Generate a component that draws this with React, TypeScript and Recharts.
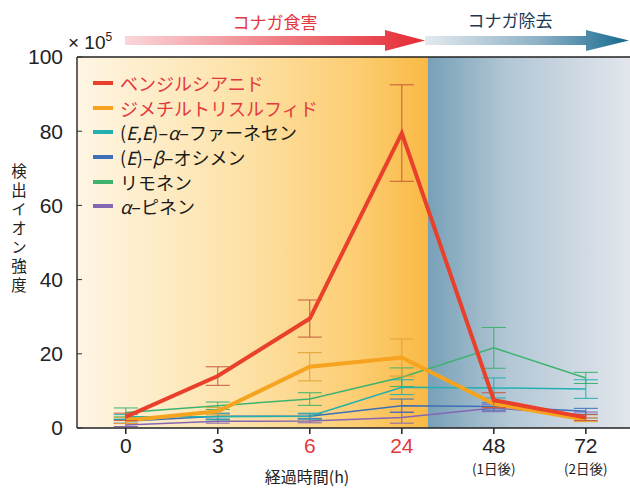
import React from "react";
import {
  LineChart,
  Line,
  XAxis,
  YAxis,
  ErrorBar,
  ReferenceArea,
  ReferenceLine,
  Legend,
} from "recharts";

const NUM_FONT = '"Liberation Sans", Arial, "Noto Sans CJK JP", sans-serif';
const JP_FONT = '"Noto Sans CJK JP", "Liberation Sans", sans-serif';

// elapsed time (h)
const timeIndex = [0, 1, 2, 3, 4, 5];
const timeLabels = ["0", "3", "6", "24", "48", "72"];
const timeSubLabels = ["", "", "", "", "(1日後)", "(2日後)"];
const timeHighlighted = [false, false, true, true, false, false];
const yTicks = [0, 20, 40, 60, 80, 100];

// detected ion intensity (x10^5): means and error
const benzylCyanide = [3, 14, 29.5, 79.5, 7.5, 2.8];
const benzylCyanideErr = [1, 2.5, 5, 13, 2, 0.8];
const dmts = [2, 4.5, 16.5, 19, 6.5, 2.2];
const dmtsErr = [0.8, 1, 3.8, 5, 1, 0.5];
const farnesene = [3, 3, 3.2, 11, 10.8, 10.5];
const farneseneErr = [0.6, 0.8, 0.8, 2, 2.7, 2.5];
const ocimene = [1.8, 3.2, 3.2, 6, 5.8, 4.5];
const ocimeneErr = [0.5, 0.8, 0.6, 1.8, 1, 0.8];
const limonene = [4.2, 6, 7.8, 13.7, 21.6, 13.5];
const limoneneErr = [1.2, 1, 1.7, 2.5, 5.5, 1.5];
const pinene = [0.8, 1.8, 1.9, 2.8, 5.4, 3.5];
const pineneErr = [0.4, 0.5, 0.5, 1.5, 1, 0.8];

// boundary between feeding / removal (in time-index units)
const removalStart = 3.28;

const data = timeIndex.map((x, i) => ({
  x,
  bc: benzylCyanide[i],
  bcErr: benzylCyanideErr[i],
  dmts: dmts[i],
  dmtsErr: dmtsErr[i],
  far: farnesene[i],
  farErr: farneseneErr[i],
  oci: ocimene[i],
  ociErr: ocimeneErr[i],
  lim: limonene[i],
  limErr: limoneneErr[i],
  pin: pinene[i],
  pinErr: pineneErr[i],
}));

const RED_TEXT = "#e3383d";

const series = [
  {
    key: "bc",
    color: "#e8402a",
    errColor: "#c65a3a",
    width: 4,
    textColor: RED_TEXT,
    label: <>ベンジルシアニド</>,
  },
  {
    key: "dmts",
    color: "#f6a31f",
    errColor: "#e0a235",
    width: 4,
    textColor: RED_TEXT,
    label: <>ジメチルトリスルフィド</>,
  },
  {
    key: "far",
    color: "#22b0b0",
    errColor: "#22b0b0",
    width: 1.5,
    textColor: "#1a1a1a",
    label: (
      <>
        (<i>E,E</i>)–<i>α</i>–ファーネセン
      </>
    ),
  },
  {
    key: "oci",
    color: "#3e6fb8",
    errColor: "#3e6fb8",
    width: 1.5,
    textColor: "#1a1a1a",
    label: (
      <>
        (<i>E</i>)–<i>β</i>–オシメン
      </>
    ),
  },
  {
    key: "lim",
    color: "#3db36e",
    errColor: "#3db36e",
    width: 1.5,
    textColor: "#1a1a1a",
    label: <>リモネン</>,
  },
  {
    key: "pin",
    color: "#8466b2",
    errColor: "#8466b2",
    width: 1.5,
    textColor: "#1a1a1a",
    label: (
      <>
        <i>α</i>–ピネン
      </>
    ),
  },
];

const TimeTick = ({ x, y, payload }: any) => {
  const i = payload.value as number;
  return (
    <text x={x} y={y} textAnchor="middle" fill="#222">
      <tspan
        x={x}
        dy={17}
        fontSize={21}
        fontFamily={NUM_FONT}
        fill={timeHighlighted[i] ? RED_TEXT : "#222"}
      >
        {timeLabels[i]}
      </tspan>
      {timeSubLabels[i] && (
        <tspan x={x} dy={20.5} fontSize={13.5} fontFamily={JP_FONT}>
          {timeSubLabels[i]}
        </tspan>
      )}
    </text>
  );
};

const LegendBox = () => (
  <div style={{ fontFamily: JP_FONT, fontSize: 18 }}>
    {series.map((s) => (
      <div key={s.key} style={{ display: "flex", alignItems: "center", height: 24.6, whiteSpace: "nowrap" }}>
        <svg width={27} height={10} style={{ flex: "none" }}>
          <line x1={0} x2={20} y1={5} y2={5} stroke={s.color} strokeWidth={4} />
        </svg>
        <span style={{ color: s.textColor }}>{s.label}</span>
      </div>
    ))}
  </div>
);

export default function App() {
  // draw thin lines first, the two thick ones on top
  const drawOrder = [...series].reverse();
  return (
    <div style={{ position: "absolute", left: 0, top: 0, width: 630, height: 490, background: "#fff" }}>
      <LineChart width={630} height={490} data={data} margin={{ top: 57, right: 0, left: 0, bottom: 0 }}>
        <defs>
          <linearGradient id="feedBg" x1="0" y1="0" x2="1" y2="0">
            <stop offset="0" stopColor="#fef5e4" />
            <stop offset="0.45" stopColor="#fde3aa" />
            <stop offset="0.8" stopColor="#fccd72" />
            <stop offset="1" stopColor="#f9b945" />
          </linearGradient>
          <linearGradient id="removeBg" x1="0" y1="0" x2="1" y2="0">
            <stop offset="0" stopColor="#77a0b7" />
            <stop offset="0.4" stopColor="#b3c7d5" />
            <stop offset="1" stopColor="#e2e6ec" />
          </linearGradient>
        </defs>
        <ReferenceArea x1={-0.53} x2={removalStart} y1={0} y2={100} fill="url(#feedBg)" fillOpacity={1} stroke="none" />
        <ReferenceArea x1={removalStart} x2={5.48} y1={0} y2={100} fill="url(#removeBg)" fillOpacity={1} stroke="none" />
        <ReferenceLine y={100} stroke="#222" strokeWidth={1.5} />
        <XAxis
          dataKey="x"
          type="number"
          domain={[-0.53, 5.48]}
          ticks={timeIndex}
          allowDataOverflow
          height={62}
          axisLine={{ stroke: "#222", strokeWidth: 1.5 }}
          tickLine={{ stroke: "#222", strokeWidth: 1.5 }}
          tickSize={6}
          tick={<TimeTick />}
        />
        <YAxis
          type="number"
          domain={[0, 100]}
          ticks={yTicks}
          width={77}
          axisLine={{ stroke: "#333", strokeWidth: 1.5 }}
          tickLine={{ stroke: "#333", strokeWidth: 1 }}
          tickSize={-5}
          tickMargin={19}
          tick={{ fontSize: 21, fill: "#222", fontFamily: NUM_FONT }}
        />
        <Legend
          layout="vertical"
          verticalAlign="middle"
          align="center"
          content={<LegendBox />}
          wrapperStyle={{ left: 93, top: 71, width: 280 }}
        />
        {drawOrder.map((s) => (
          <Line
            key={s.key}
            type="linear"
            dataKey={s.key}
            stroke={s.color}
            strokeWidth={s.width}
            dot={false}
            isAnimationActive={false}
            legendType="none"
          >
            <ErrorBar dataKey={`${s.key}Err`} width={12} stroke={s.errColor} strokeWidth={1} direction="y" />
          </Line>
        ))}
      </LineChart>
      <svg
        width={630}
        height={490}
        style={{ position: "absolute", left: 0, top: 0, pointerEvents: "none" }}
      >
        <defs>
          <linearGradient id="feedArrow" x1="0" y1="0" x2="1" y2="0">
            <stop offset="0" stopColor="#fad6d9" />
            <stop offset="1" stopColor="#e52a34" />
          </linearGradient>
          <linearGradient id="removeArrow" x1="0" y1="0" x2="1" y2="0">
            <stop offset="0" stopColor="#e3e9ee" />
            <stop offset="0.55" stopColor="#8fb2c6" />
            <stop offset="1" stopColor="#15698f" />
          </linearGradient>
        </defs>
        <path d="M125,36 L385,36 L385,30 L425,40.5 L385,51 L385,45 L125,45 Z" fill="url(#feedArrow)" />
        <path d="M425,36 L586,36 L586,30 L629,40.5 L586,51 L586,45 L425,45 Z" fill="url(#removeArrow)" />
        <text x={275} y={29} textAnchor="middle" fontSize={17} fontFamily={JP_FONT} fill={RED_TEXT}>
          コナガ食害
        </text>
        <text x={510} y={27} textAnchor="middle" fontSize={17} fontFamily={JP_FONT} fill="#1e3854">
          コナガ除去
        </text>
        <text x={68} y={49} fontSize={19} fontFamily={NUM_FONT} fill="#222">
          × 10
          <tspan fontSize={12} dy={-8}>
            5
          </tspan>
        </text>
        <text
          x={19}
          y={163}
          fontSize={15.5}
          fontFamily={JP_FONT}
          fill="#222"
          letterSpacing={3.5}
          style={{ writingMode: "vertical-rl" }}
        >
          検出イオン強度
        </text>
        <text x={307} y={483} textAnchor="middle" fontSize={16} fontFamily={JP_FONT} fill="#222">
          経過時間(h)
        </text>
      </svg>
    </div>
  );
}
